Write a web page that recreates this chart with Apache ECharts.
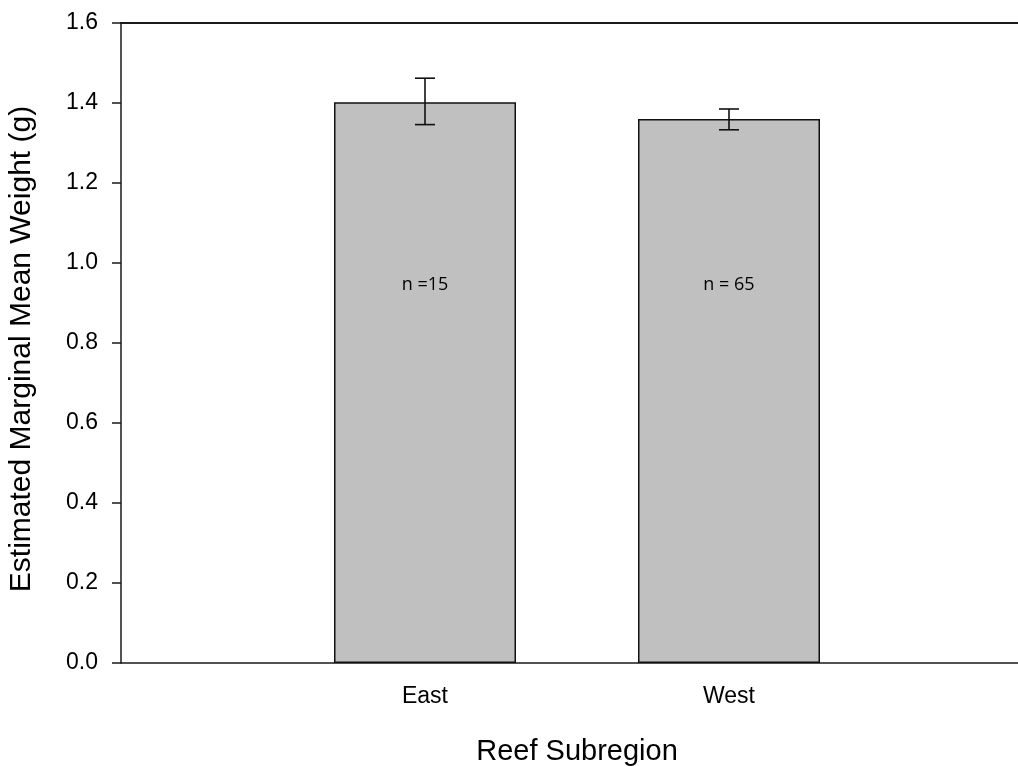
<!DOCTYPE html>
<html>
<head>
<meta charset="utf-8">
<script src="https://cdn.jsdelivr.net/npm/echarts@6/dist/echarts.min.js"></script>
<style>
html,body{margin:0;padding:0;background:#fff;}
#chart{width:1018px;height:767px;}
</style>
</head>
<body>
<div id="chart"></div>
<script>
// Data
const categories = ['East', 'West'];
const catPositions = [1, 2];
const means = [1.402, 1.360];
const errUpper = [1.462, 1.385];
const errLower = [1.346, 1.333];
const nLabels = ['n =15', 'n = 65'];
const nLabelY = 0.946;
const yTicks = [0, 0.2, 0.4, 0.6, 0.8, 1.0, 1.2, 1.4, 1.6];

const chart = echarts.init(document.getElementById('chart'));

const barData = catPositions.map((p, i) => [p, means[i]]);
const errData = catPositions.map((p, i) => [p, errLower[i], errUpper[i]]);
const labelData = catPositions.map((p, i) => [p, nLabelY, nLabels[i]]);

const FONT = 'Liberation Sans, Arial, sans-serif';

const option = {
  animation: false,
  backgroundColor: '#fff',
  grid: { left: 121, top: 23, width: 912, height: 640, outerBoundsMode: 'none', containLabel: false },
  xAxis: [{
    type: 'value',
    min: 0, max: 3, interval: 1,
    splitLine: { show: false },
    axisLine: { show: true, lineStyle: { color: '#1a1a1a', width: 1.5 } },
    axisTick: { show: false },
    axisLabel: {
      margin: 22,
      fontFamily: FONT,
      fontSize: 23, color: '#000',
      formatter: v => { const i = catPositions.indexOf(v); return i >= 0 ? categories[i] : ''; }
    },
    name: 'Reef Subregion',
    nameLocation: 'middle',
    nameGap: 74,
    nameTextStyle: { fontFamily: FONT, fontSize: 29, color: '#000' }
  }, {
    type: 'value', position: 'top',
    min: 0, max: 3,
    splitLine: { show: false },
    axisLine: { show: true, onZero: false, lineStyle: { color: '#1a1a1a', width: 2 } },
    axisTick: { show: false },
    axisLabel: { show: false }
  }],
  yAxis: {
    type: 'value',
    min: 0, max: 1.6, interval: 0.2,
    splitLine: { show: false },
    axisLine: { show: true, lineStyle: { color: '#1a1a1a', width: 1.5 } },
    axisTick: { show: true, inside: false, length: 9, lineStyle: { color: '#1a1a1a', width: 1.5 } },
    axisLabel: {
      margin: 23,
      fontFamily: FONT,
      fontSize: 23, color: '#000',
      formatter: v => v.toFixed(1)
    },
    name: 'Estimated Marginal Mean Weight (g)',
    nameLocation: 'middle',
    nameGap: 84,
    nameTextStyle: { fontFamily: FONT, fontSize: 30, color: '#000', padding: [0, 12, 0, 0] }
  },
  series: [{
    type: 'bar',
    data: barData,
    barWidth: 182,
    itemStyle: { color: '#c0c0c0', borderColor: '#111', borderWidth: 1.5 },
    z: 2
  }, {
    type: 'custom',
    data: errData,
    z: 5,
    renderItem: (params, api) => {
      const x = api.value(0);
      const lo = api.coord([x, api.value(1)]);
      const hi = api.coord([x, api.value(2)]);
      const hw = 10;
      const style = { stroke: '#111', lineWidth: 1.6 };
      return {
        type: 'group',
        children: [
          { type: 'line', shape: { x1: hi[0], y1: hi[1], x2: lo[0], y2: lo[1] }, style },
          { type: 'line', shape: { x1: hi[0] - hw, y1: hi[1], x2: hi[0] + hw, y2: hi[1] }, style },
          { type: 'line', shape: { x1: lo[0] - hw, y1: lo[1], x2: lo[0] + hw, y2: lo[1] }, style }
        ]
      };
    }
  }, {
    type: 'custom',
    data: labelData,
    z: 6,
    renderItem: (params, api) => {
      const p = api.coord([api.value(0), api.value(1)]);
      return {
        type: 'text',
        x: p[0], y: p[1],
        style: {
          text: nLabels[params.dataIndex],
          align: 'center', verticalAlign: 'middle',
          font: '18px "Open Sans", "Noto Sans", sans-serif',
          fill: '#000'
        }
      };
    }
  }]
};
chart.setOption(option);
</script>
</body>
</html>
